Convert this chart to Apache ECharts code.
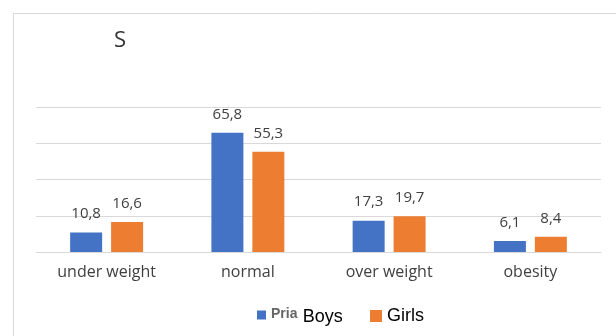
<!DOCTYPE html>
<html>
<head>
<meta charset="utf-8">
<script src="https://cdn.jsdelivr.net/npm/echarts@6/dist/echarts.min.js"></script>
<style>
  html, body { margin: 0; padding: 0; background: #fff; }
  #chart { width: 616px; height: 336px; }
</style>
</head>
<body>
<div id="chart"></div>
<script>
// Weight status categories and percentages per group
const categories = ['under weight', 'normal', 'over weight', 'obesity'];
const boysValues = [10.8, 65.8, 17.3, 6.1];
const girlsValues = [16.6, 55.3, 19.7, 8.4];
const yTicks = [0, 20, 40, 60, 80];

const labelFont = '"Open Sans", "Noto Sans", sans-serif';
const legendFont = 'Arial, "Liberation Sans", sans-serif';
const commaFmt = p => String(p.value).replace('.', ',');

const chart = echarts.init(document.getElementById('chart'), null, { renderer: 'canvas' });

chart.setOption({
  animation: false,
  backgroundColor: '#fff',
  title: {
    text: 'S',
    left: 109,
    top: 25,
    textStyle: { fontFamily: labelFont, fontSize: 22, fontWeight: 'normal', color: '#333' }
  },
  graphic: [{
    type: 'rect',
    shape: { x: 13.5, y: 13.5, width: 640, height: 340 },
    style: { fill: 'none', stroke: '#d9d9d9', lineWidth: 1 },
    silent: true,
    z: -1
  }],
  legend: [{
    data: ['Boys'],
    left: 252,
    top: 302,
    icon: 'rect',
    itemWidth: 9,
    itemHeight: 9,
    formatter: () => '{p|Pria} {b|Boys}',
    textStyle: {
      rich: {
        p: { fontFamily: legendFont, fontSize: 14, fontWeight: 'bold', color: '#666', padding: [0, 2, 2, 0] },
        b: { fontFamily: legendFont, fontSize: 18, color: '#000', padding: [4, 0, 0, 0] }
      }
    }
  }, {
    data: ['Girls'],
    left: 365,
    top: 302,
    icon: 'rect',
    itemWidth: 12,
    itemHeight: 12,
    textStyle: { fontFamily: legendFont, fontSize: 18, color: '#000', padding: [4, 0, 0, 0] }
  }],
  grid: { left: 36, right: 15, top: 107, bottom: 84 },
  xAxis: {
    type: 'category',
    data: categories,
    axisLine: { lineStyle: { color: '#d9d9d9' } },
    axisTick: { show: false },
    axisLabel: { fontFamily: labelFont, fontSize: 16, color: '#404040', margin: 12 }
  },
  yAxis: {
    type: 'value',
    min: yTicks[0],
    max: yTicks[yTicks.length - 1],
    interval: yTicks[1] - yTicks[0],
    axisLine: { show: false },
    axisTick: { show: false },
    axisLabel: { show: false },
    splitLine: { lineStyle: { color: '#d9d9d9' } }
  },
  series: [{
    name: 'Boys',
    type: 'bar',
    data: boysValues,
    barWidth: 32,
    barGap: '28%',
    itemStyle: { color: '#4472c4' },
    label: { show: true, position: 'top', distance: 11, formatter: commaFmt,
      fontFamily: labelFont, fontSize: 15, color: '#404040' }
  }, {
    name: 'Girls',
    type: 'bar',
    data: girlsValues,
    barWidth: 32,
    itemStyle: { color: '#ed7d31' },
    label: { show: true, position: 'top', distance: 11, formatter: commaFmt,
      fontFamily: labelFont, fontSize: 15, color: '#404040' }
  }]
});
</script>
</body>
</html>
